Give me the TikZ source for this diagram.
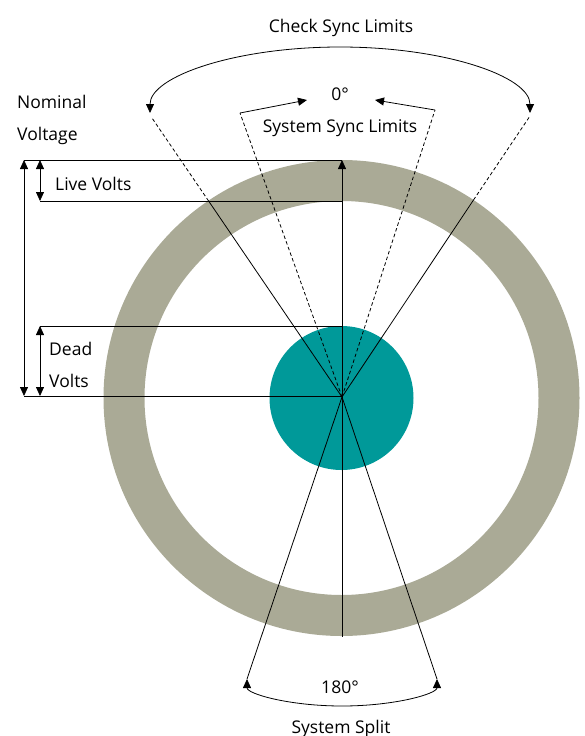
\documentclass[tikz,border=0pt]{standalone}
\usepackage{fontspec}
\setmainfont{Open Sans}
\usetikzlibrary{arrows.meta}
\definecolor{stone}{RGB}{170,170,150}
\definecolor{petrol}{RGB}{0,153,153}
\begin{document}
\begin{tikzpicture}[x=1pt,y=-1pt,
  ln/.style={line width=0.8pt},
  dsh/.style={line width=0.8pt, dash pattern=on 3.5pt off 2.5pt},
  tip/.style={-{Triangle[length=9pt,width=8pt]}},
  tips/.style={{Triangle[length=9pt,width=8pt]}-{Triangle[length=9pt,width=8pt]}},
  lbl/.style={font=\fontsize{17.5}{20}\selectfont, inner sep=0pt}]
\useasboundingbox (0,0) rectangle (585,736);
% ring and core
\fill[stone, even odd rule] (341.5,398) circle[radius=238] (341.5,398) circle[radius=197];
\node[circle, fill=petrol, minimum size=144pt, inner sep=0pt] (core) at (341.5,398) {};
% coordinates
\coordinate (C) at (342,397);
\coordinate (ULo) at (208.6,201);
\coordinate (ULd) at (152,118);
\coordinate (URo) at (473.5,200);
\coordinate (URd) at (530,116);
\coordinate (SL) at (240,113);
\coordinate (SLt) at (307,100);
\coordinate (SR) at (435,110);
\coordinate (SRt) at (375,100);
\coordinate (CkL) at (150,113);
\coordinate (CkR) at (530,113);
\coordinate (BL) at (247,679);
\coordinate (BR) at (437,679);
\coordinate (Top) at (342,160);
\coordinate (Bot) at (342,637);
\coordinate (N1) at (24,160);
\coordinate (N2) at (24,396);
\coordinate (L1) at (40,160);
\coordinate (L2) at (40,201);
\coordinate (L2r) at (342,201);
\coordinate (D1) at (40,326);
\coordinate (D1r) at (342,326);
\coordinate (D2) at (40,396);
\coordinate (Cl) at (342,396);
% rays
\draw[ln] (C) -- (ULo);
\draw[dsh] (ULo) -- (ULd);
\draw[ln] (C) -- (URo);
\draw[dsh] (URo) -- (URd);
\draw[dsh] (C) -- (SL);
\draw[dsh] (C) -- (SR);
\draw[ln, tip] (SL) -- (SLt);
\draw[ln, tip] (SR) -- (SRt);
\draw[ln, tip] (C) -- (Top);
\draw[ln] (C) -- (Bot);
\draw[ln] (C) -- (BL);
\draw[ln] (C) -- (BR);
% arcs
\draw[ln, tips] (CkL) arc[start angle=180, end angle=360, x radius=190, y radius=66];
\draw[ln, tips] (BL) arc[start angle=180, end angle=0, x radius=95, y radius=27];
% voltage levels
\draw[ln] (N1) -- (Top);
\draw[ln] (L2) -- (L2r);
\draw[ln] (D1) -- (D1r);
\draw[ln] (N2) -- (Cl);
\draw[ln, tips] (N1) -- (N2);
\draw[ln, tips] (L1) -- (L2);
\draw[ln, tips] (D1) -- (D2);
% labels
\node[lbl, anchor=base] (csl) at (341,32) {Check Sync Limits};
\node[lbl, anchor=base] (zero) at (340,100) {0°};
\node[lbl, anchor=base] (ssl) at (340,132) {System Sync Limits};
\node[lbl, anchor=base west] (nom) at (17,108) {Nominal};
\node[lbl, anchor=base west] (volt) at (17,140) {Voltage};
\node[lbl, anchor=base west] (live) at (55,190) {Live Volts};
\node[lbl, anchor=base west] (dead) at (49,355) {Dead};
\node[lbl, anchor=base west] (dv) at (49,387) {Volts};
\node[lbl, anchor=base] (oneeighty) at (340,693) {180°};
\node[lbl, anchor=base] (split) at (341,733) {System Split};
\end{tikzpicture}
\end{document}
